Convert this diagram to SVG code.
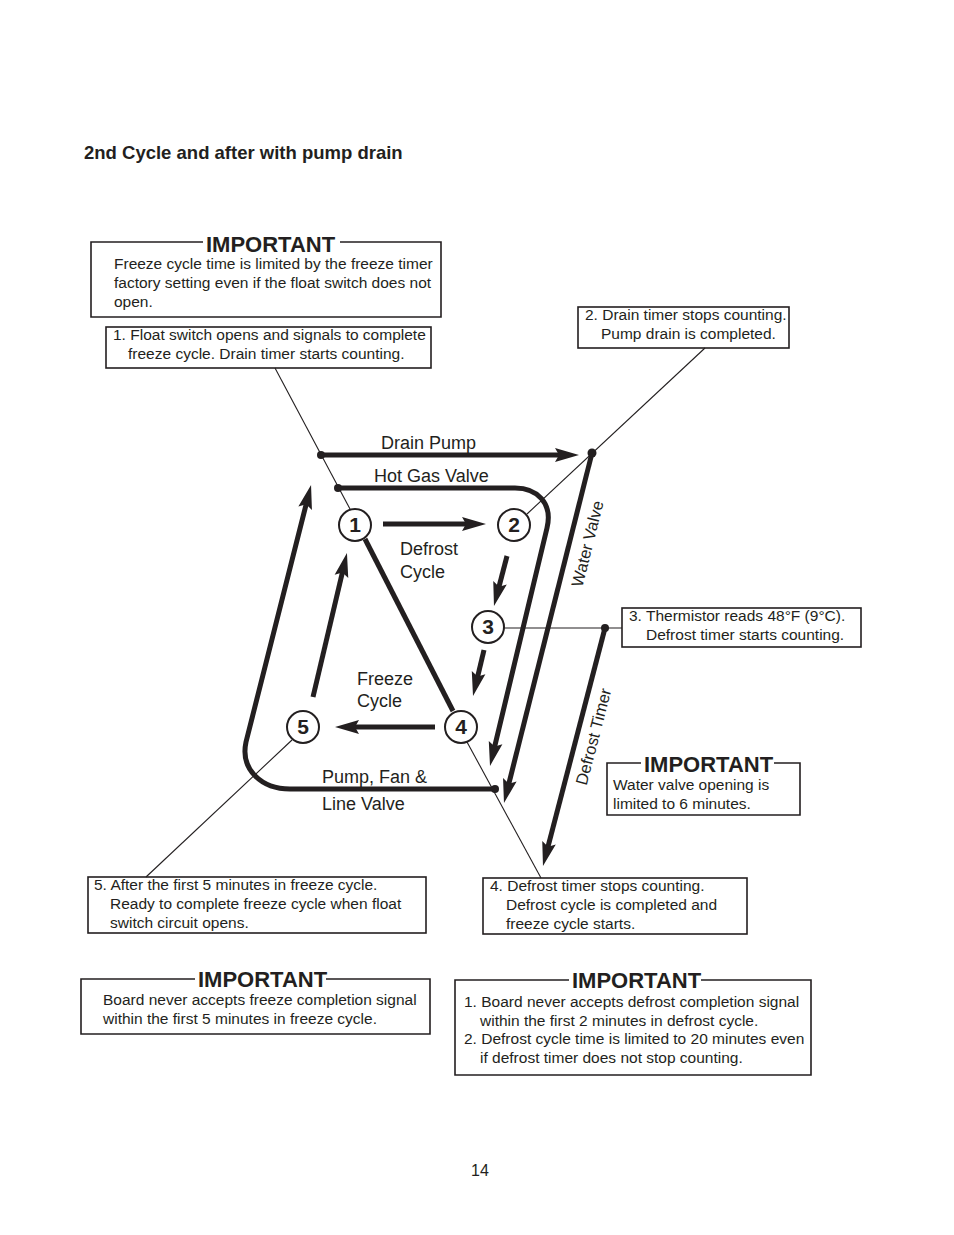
<svg xmlns="http://www.w3.org/2000/svg" width="954" height="1235" viewBox="0 0 954 1235">
<style>
text{font-family:"Liberation Sans",Arial,sans-serif;fill:#231f20}
.t{font-size:15.5px}
.l{font-size:18px}
.r{font-size:16.5px}
.imp{font-size:22px;font-weight:bold}
.num{font-size:21px;font-weight:bold;text-anchor:middle}
.title{font-size:18.5px;font-weight:bold}
.box{fill:none;stroke:#231f20;stroke-width:1.6}
.thin{fill:none;stroke:#231f20;stroke-width:1.1}
.thick{fill:none;stroke:#231f20;stroke-width:5}
.c{fill:#fff;stroke:#231f20;stroke-width:2}
.dot{fill:#231f20}
</style>
<defs>
<marker id="ah" markerUnits="userSpaceOnUse" markerWidth="26" markerHeight="14" refX="12" refY="7" orient="auto" overflow="visible">
<path d="M0,0 L24,7 L0,14 L4,7 Z" fill="#231f20"/>
</marker>
</defs>
<rect width="954" height="1235" fill="#fff"/>
<text class="title" x="84" y="159">2nd Cycle and after with pump drain</text>

<g id="imp1">
<path class="box" d="M203,242 H91 V317 H441 V242 H340"/>
<text class="imp" x="206" y="252">IMPORTANT</text>
<text class="t" x="114" y="269">Freeze cycle time is limited by the freeze timer</text>
<text class="t" x="114" y="288">factory setting even if the float switch does not</text>
<text class="t" x="114" y="307">open.</text>
</g>
<g id="box1">
<rect class="box" x="106" y="327" width="325" height="41"/>
<text class="t" x="113" y="340">1. Float switch opens and signals to complete</text>
<text class="t" x="128" y="359">freeze cycle. Drain timer starts counting.</text>
</g>
<g id="box2">
<rect class="box" x="578" y="307" width="211" height="41"/>
<text class="t" x="585" y="320">2. Drain timer stops counting.</text>
<text class="t" x="601" y="339">Pump drain is completed.</text>
</g>
<g id="box3">
<rect class="box" x="622" y="608" width="239" height="39"/>
<text class="t" x="629" y="621">3. Thermistor reads 48°F (9°C).</text>
<text class="t" x="646" y="640">Defrost timer starts counting.</text>
</g>
<g id="imp2">
<path class="box" d="M641,763 H607 V815 H800 V763 H774"/>
<text class="imp" x="644" y="772">IMPORTANT</text>
<text class="t" x="613" y="790">Water valve opening is</text>
<text class="t" x="613" y="809">limited to 6 minutes.</text>
</g>
<g id="box5">
<rect class="box" x="88" y="877" width="338" height="56"/>
<text class="t" x="94" y="890">5. After the first 5 minutes in freeze cycle.</text>
<text class="t" x="110" y="909">Ready to complete freeze cycle when float</text>
<text class="t" x="110" y="928">switch circuit opens.</text>
</g>
<g id="box4">
<rect class="box" x="483" y="878" width="264" height="56"/>
<text class="t" x="490" y="891">4. Defrost timer stops counting.</text>
<text class="t" x="506" y="910">Defrost cycle is completed and</text>
<text class="t" x="506" y="929">freeze cycle starts.</text>
</g>
<g id="imp3">
<path class="box" d="M195,979 H81 V1034 H430 V979 H326"/>
<text class="imp" x="198" y="987">IMPORTANT</text>
<text class="t" x="103" y="1005">Board never accepts freeze completion signal</text>
<text class="t" x="103" y="1024">within the first 5 minutes in freeze cycle.</text>
</g>
<g id="imp4">
<path class="box" d="M569,980 H455 V1075 H811 V980 H701"/>
<text class="imp" x="572" y="988">IMPORTANT</text>
<text class="t" x="464" y="1007">1. Board never accepts defrost completion signal</text>
<text class="t" x="480" y="1026">within the first 2 minutes in defrost cycle.</text>
<text class="t" x="464" y="1044">2. Defrost cycle time is limited to 20 minutes even</text>
<text class="t" x="480" y="1063">if defrost timer does not stop counting.</text>
</g>

<g id="connectors">
<line class="thin" x1="275" y1="368" x2="350" y2="509"/>
<line class="thin" x1="705" y1="348" x2="527" y2="514"/>
<line class="thin" x1="503" y1="628" x2="622" y2="628"/>
<line class="thin" x1="467" y1="742" x2="541" y2="878"/>
<line class="thin" x1="292" y1="740" x2="146" y2="877"/>
<path class="thick" d="M321,455 H567" marker-end="url(#ah)"/>
<path class="thick" d="M338,488 H515 C537,488 553,503 547,528 L492.8,754.3" marker-end="url(#ah)"/>
<path class="thick" d="M592,453 L506.9,791.4" marker-end="url(#ah)"/>
<path class="thick" d="M605,628 L546,854.4" marker-end="url(#ah)"/>
<path class="thick" d="M495,789 H290 C262,789 240,770 246,742 L308.1,496.6" marker-end="url(#ah)"/>
<path class="thick" d="M383,524 H474" marker-end="url(#ah)"/>
<path class="thick" d="M507,556 L497,594.4" marker-end="url(#ah)"/>
<path class="thick" d="M484,650 L475.8,684.3" marker-end="url(#ah)"/>
<path class="thick" d="M435,727 H347" marker-end="url(#ah)"/>
<path class="thick" d="M313,697 L344.2,564.7" marker-end="url(#ah)"/>
<line class="thick" x1="365" y1="539" x2="453" y2="711"/>
<circle class="dot" cx="321" cy="455" r="4"/>
<circle class="dot" cx="338" cy="488" r="4"/>
<circle class="dot" cx="592" cy="453" r="4.5"/>
<circle class="dot" cx="605" cy="628" r="4"/>
<circle class="dot" cx="495" cy="789" r="4"/>
<text class="l" x="381" y="449">Drain Pump</text>
<text class="l" x="374" y="482">Hot Gas Valve</text>
<text class="l" x="400" y="555">Defrost</text>
<text class="l" x="400" y="578">Cycle</text>
<text class="l" x="357" y="685">Freeze</text>
<text class="l" x="357" y="707">Cycle</text>
<text class="l" x="322" y="783">Pump, Fan &amp;</text>
<text class="l" x="322" y="810">Line Valve</text>
<text class="r" text-anchor="middle" transform="translate(593,545) rotate(-76)">Water Valve</text>
<text class="r" text-anchor="middle" transform="translate(599,738) rotate(-75.4)">Defrost Timer</text>
</g>

<g id="n1"><circle class="c" cx="355" cy="525" r="16"/><text class="num" x="355" y="532">1</text></g>
<g id="n2"><circle class="c" cx="514" cy="525" r="16"/><text class="num" x="514" y="532">2</text></g>
<g id="n3"><circle class="c" cx="488" cy="627" r="16"/><text class="num" x="488" y="634">3</text></g>
<g id="n4"><circle class="c" cx="461" cy="727" r="16"/><text class="num" x="461" y="734">4</text></g>
<g id="n5"><circle class="c" cx="303" cy="727" r="16"/><text class="num" x="303" y="734">5</text></g>

<text x="480" y="1176" style="font-size:16px" text-anchor="middle">14</text>
</svg>
